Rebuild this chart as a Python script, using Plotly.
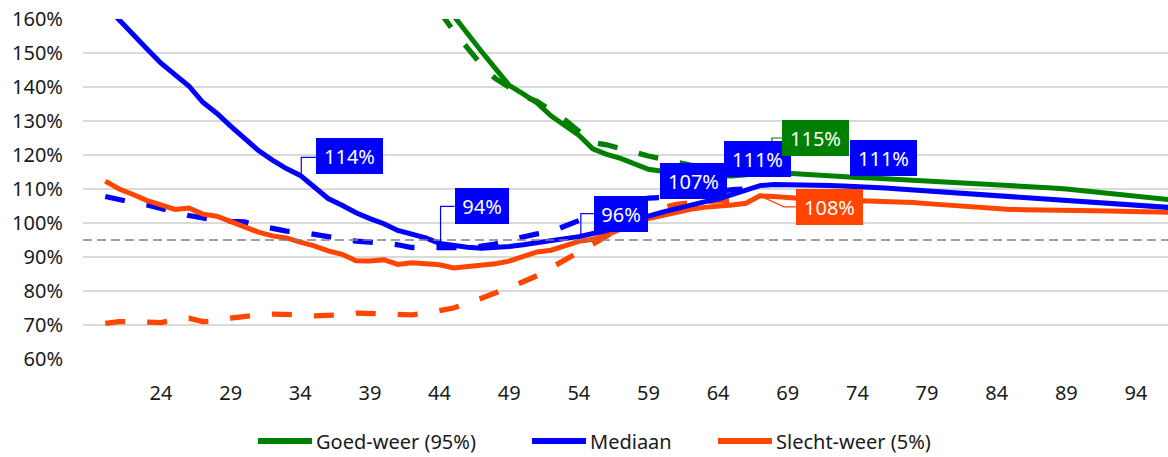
import plotly.graph_objects as go

# ---- data -------------------------------------------------------------
ages_full = list(range(20, 98))          # 20 .. 97
ages_blue = ages_full
ages_red = ages_full
ages_green = list(range(45, 98))         # 45 .. 97
ages_proj = list(range(20, 67))          # dashed projections 20 .. 66
ages_green_proj = list(range(44, 67))    # 44 .. 66

blue_solid = [164, 159.6, 155.4, 151.2, 147, 143.5, 140.3, 135.5, 132.3, 128.5,
              125, 121.3, 118.5, 116, 114, 110.5, 107.2, 105.2, 103, 101.3,
              99.8, 97.8, 96.8, 95.6, 94, 93.3, 92.9, 92.6, 92.8, 93.1,
              93.6, 94.1, 94.7, 95.4, 96, 96.8, 97.8, 99, 100.6, 102,
              103.2, 104.3, 105.2, 106.2, 107, 108.3, 109.8, 111, 111.3, 111.3,
              111.2, 111.1, 111, 110.9, 110.8, 110.6, 110.3, 110, 109.7, 109.5,
              109.2, 108.9, 108.5, 108.2, 107.9, 107.6, 107.3, 107, 106.8, 106.5,
              106.2, 105.9, 105.6, 105.3, 105, 104.8, 104.6, 104.4]

red_solid = [112.3, 110, 108.4, 106.6, 105.3, 104, 104.4, 102.6, 102, 100.4,
             98.8, 97.3, 96.2, 95.6, 94.4, 93.3, 91.8, 90.8, 88.9, 88.8,
             89.2, 87.8, 88.3, 88, 87.7, 86.8, 87.2, 87.7, 88, 88.8,
             90.3, 91.5, 92, 93.4, 94.6, 95.2, 96.5, 98.2, 100.2, 101.3,
             102.2, 103.2, 104, 104.6, 104.8, 105.3, 105.8, 108, 107.8, 107.4,
             107.2, 107, 106.9, 106.8, 106.7, 106.6, 106.4, 106.2, 106, 105.7,
             105.4, 105, 104.7, 104.4, 104.2, 104, 103.9, 103.9, 103.8, 103.8,
             103.7, 103.6, 103.5, 103.5, 103.4, 103.3, 103.2, 103.1]

green_solid = [161, 155.5, 150.5, 145.5, 140.5, 138, 135.3, 131.5, 128.5, 125.8,
               121.8, 120.2, 119, 117.5, 115.8, 115.2, 114.7, 114.3, 114, 113.8,
               113.8, 114.2, 114.7, 115, 114.6, 114.3, 114.1, 113.9, 113.7, 113.4,
               113.2, 113, 112.8, 112.6, 112.4, 112.2, 111.9, 111.7, 111.5, 111.3,
               111, 110.8, 110.5, 110.3, 110, 109.6, 109.2, 108.8, 108.4, 108,
               107.5, 107, 106.6]

blue_proj = [107.8, 106.8, 106, 105.3, 104.2, 103, 102.2, 101.5, 100.8, 100.5,
             100.3, 99.2, 98.2, 97.6, 97.3, 96.6, 95.9, 95.2, 94.7, 94.4,
             94, 93.6, 92.8, 92.8, 92.8, 92.6, 92.8, 93.2, 93.8, 95,
             96, 96.8, 97.5, 99, 100.5, 102.3, 104, 105.3, 106.6, 107.3,
             107.5, 107.7, 108, 108.5, 109.2, 109.8, 110]

red_proj = [70.5, 71, 71, 70.7, 70.7, 71.5, 72, 71, 71.2, 72,
            72.6, 73, 73.2, 73.2, 73, 72.7, 72.7, 73, 73.5, 73.4,
            73.2, 73, 73, 73.5, 74.3, 75, 76.3, 77.8, 79.2, 81,
            82.7, 84.5, 86.8, 89, 91.3, 93.8, 96.2, 98.8, 101, 103,
            104.5, 105.5, 106, 106.3, 106.5, 106.5, 106.5]

green_proj = [162.3, 156.5, 151.5, 146.5, 142.5, 139.8, 137.3, 135.8, 133, 130.3,
              127, 123.7, 123, 121.8, 120.7, 119.7, 118.8, 117.9, 117, 116.5,
              116, 115.6, 115.3]

reference_level = 95
x_ticks = list(range(24, 95, 5))
y_ticks = list(range(60, 161, 10))
y_tick_text = [f"{v}%" for v in y_ticks]

GREEN = "#008000"
BLUE = "#0000FF"
RED = "#FF4500"
TEXT = "#1a1a1a"
FONT = "Noto Sans"

series = {
    "green": (ages_green, green_solid),
    "blue": (ages_blue, blue_solid),
    "red": (ages_red, red_solid),
}

fig = go.Figure()

dash = "20px,22px"
for x, y, c in [(ages_proj, red_proj, RED),
                (ages_proj, blue_proj, BLUE),
                (ages_green_proj, green_proj, GREEN)]:
    fig.add_trace(go.Scatter(x=x, y=y, mode="lines", showlegend=False,
                             line=dict(color=c, width=5.3, dash=dash),
                             hoverinfo="skip"))

for name, key, c in [("Slecht-weer (5%)", "red", RED),
                     ("Mediaan", "blue", BLUE),
                     ("Goed-weer (95%)", "green", GREEN)]:
    x, y = series[key]
    fig.add_trace(go.Scatter(x=x, y=y, mode="lines", name=name, showlegend=False,
                             line=dict(color=c, width=5)))

# horizontal reference line
fig.add_shape(type="line", xref="paper", x0=0, x1=1, yref="y",
              y0=reference_level, y1=reference_level,
              line=dict(color="#808080", width=1.5, dash="9px,5px"), layer="above")

# data labels: (series, age, box offset dx, dy, leader path in px or None, colour)
labels = [
    ("blue", 34, 49, 19, "M1,0 V18 H16", BLUE),
    ("blue", 44, 42, 37, "M1,0 V37 H15", BLUE),
    ("blue", 54, 42, 23, "M2,0 V23 H15", BLUE),
    ("blue", 64, -25, 18, None, BLUE),
    ("blue", 67, -2.5, 27, None, BLUE),
    ("green", 68, 42, 34, "M-2,0 V34 H9", GREEN),
    ("blue", 75, 12, 29, None, BLUE),
    ("red", 67, 70, -10.7, "M0,0 L24,-11 H36", RED),
]
for key, age, dx, dy, path, c in labels:
    xs, ys = series[key]
    val = ys[xs.index(age)]
    if path:
        fig.add_shape(type="path", xref="x", yref="y",
                      xsizemode="pixel", ysizemode="pixel",
                      xanchor=age, yanchor=val, path=path,
                      line=dict(color=c, width=1.2), layer="above")
    txt = f"{round(val)}%"
    fig.add_annotation(x=age, y=val, text=txt, showarrow=False,
                       xshift=dx, yshift=dy, xanchor="center", yanchor="middle",
                       bgcolor=c, borderpad=5, borderwidth=0,
                       width=57 if len(txt) > 3 else 44, height=26,
                       font=dict(family=FONT, size=20, color="white"))

# legend drawn below the plot
PLOT_L, PLOT_W, PLOT_B, PLOT_H = 83, 1085, 359, 340
def px_x(p):
    return (p - PLOT_L) / PLOT_W
def px_y(p):
    return (PLOT_B - p) / PLOT_H

legend_items = [("Goed-weer (95%)", GREEN, 258), ("Mediaan", BLUE, 532),
                ("Slecht-weer (5%)", RED, 718)]
ly = px_y(441)
for text, c, x0 in legend_items:
    fig.add_shape(type="line", xref="paper", yref="paper",
                  x0=px_x(x0), x1=px_x(x0 + 54), y0=ly, y1=ly,
                  line=dict(color=c, width=6))
    fig.add_annotation(xref="paper", yref="paper", x=px_x(x0 + 56), y=ly,
                       text=text, showarrow=False, xanchor="left", yanchor="middle",
                       font=dict(family=FONT, size=20, color=TEXT))

fig.update_layout(
    width=1168, height=457,
    margin=dict(l=83, r=0, t=19, b=98),
    plot_bgcolor="white", paper_bgcolor="white",
    showlegend=False,
    xaxis=dict(range=[18.4, 96.3], tickvals=x_ticks, showgrid=False,
               zeroline=False, showline=False, ticks="",
               ticklabelstandoff=20,
               tickfont=dict(family=FONT, size=20, color=TEXT)),
    yaxis=dict(range=[60, 160], tickvals=y_ticks, ticktext=y_tick_text,
               showgrid=True, gridcolor="#d9d9d9", gridwidth=2,
               zeroline=False, showline=False, ticks="",
               ticklabelstandoff=19,
               tickfont=dict(family=FONT, size=20, color=TEXT)),
)

fig.write_html("out.html")
